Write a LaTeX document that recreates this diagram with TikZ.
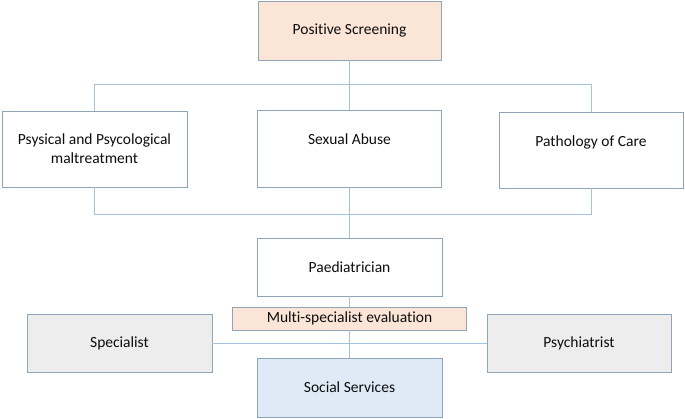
\documentclass[tikz,border=0pt]{standalone}
\usepackage{fontspec}
\setmainfont{Carlito}[Ligatures={NoCommon}]
\definecolor{bordc}{HTML}{90A4B8}
\definecolor{connc}{HTML}{A4C2DC}
\definecolor{peach}{HTML}{FBE5D6}
\definecolor{lgray}{HTML}{EDEDED}
\definecolor{lblue}{HTML}{DEEBF7}
\begin{document}
\begin{tikzpicture}[x=1pt,y=-1pt,
  box/.style={draw=bordc, line width=0.9pt, fill=white, rectangle, align=center,
    inner sep=0pt, font=\fontsize{15.5}{19}\selectfont, text=black!95},
  conn/.style={draw=connc, line width=0.9pt}]
\useasboundingbox (0,0) rectangle (685,419);
\coordinate (tl) at (94.5,84);
\coordinate (tr) at (591,84);
\coordinate (bl) at (94.5,214);
\coordinate (br) at (591,214);
\node[box, fill=peach, minimum width=183pt, minimum height=59pt] (ps) at (349.5,30.5) {Positive Screening};
\node[box, minimum width=185pt, minimum height=76pt] (b1) at (94.5,149) {Psysical and Psycological\\maltreatment};
\node[box, minimum width=184pt, minimum height=77pt] (b2) at (349.5,148.5) {Sexual Abuse\\[-6pt]\strut};
\node[box, minimum width=184pt, minimum height=76pt] (b3) at (591,150) {Pathology of Care\\[-6pt]\strut};
\node[box, minimum width=185pt, minimum height=58pt] (paed) at (349.5,267) {Paediatrician};
\node[box, fill=peach, minimum width=234pt, minimum height=23pt] (multi) at (349.5,318.5) {Multi-specialist evaluation};
\node[box, fill=lgray, minimum width=185pt, minimum height=58pt] (spec) at (119.5,343.5) {Specialist};
\node[box, fill=lgray, minimum width=184pt, minimum height=58pt] (psy) at (579,343.5) {Psychiatrist};
\node[box, fill=lblue, minimum width=185pt, minimum height=59pt] (soc) at (349.5,387.5) {Social Services};
\draw[conn] (ps.south) -- (b2.north);
\draw[conn] (b1.north) -- (tl) -- (tr) -- (b3.north);
\draw[conn] (b1.south) -- (bl) -- (br) -- (b3.south);
\draw[conn] (b2.south) -- (paed.north);
\draw[conn] (paed.south) -- (multi.north);
\draw[conn] (multi.south) -- (soc.north);
\draw[conn] (spec.east) -- (psy.west);
\end{tikzpicture}
\end{document}
